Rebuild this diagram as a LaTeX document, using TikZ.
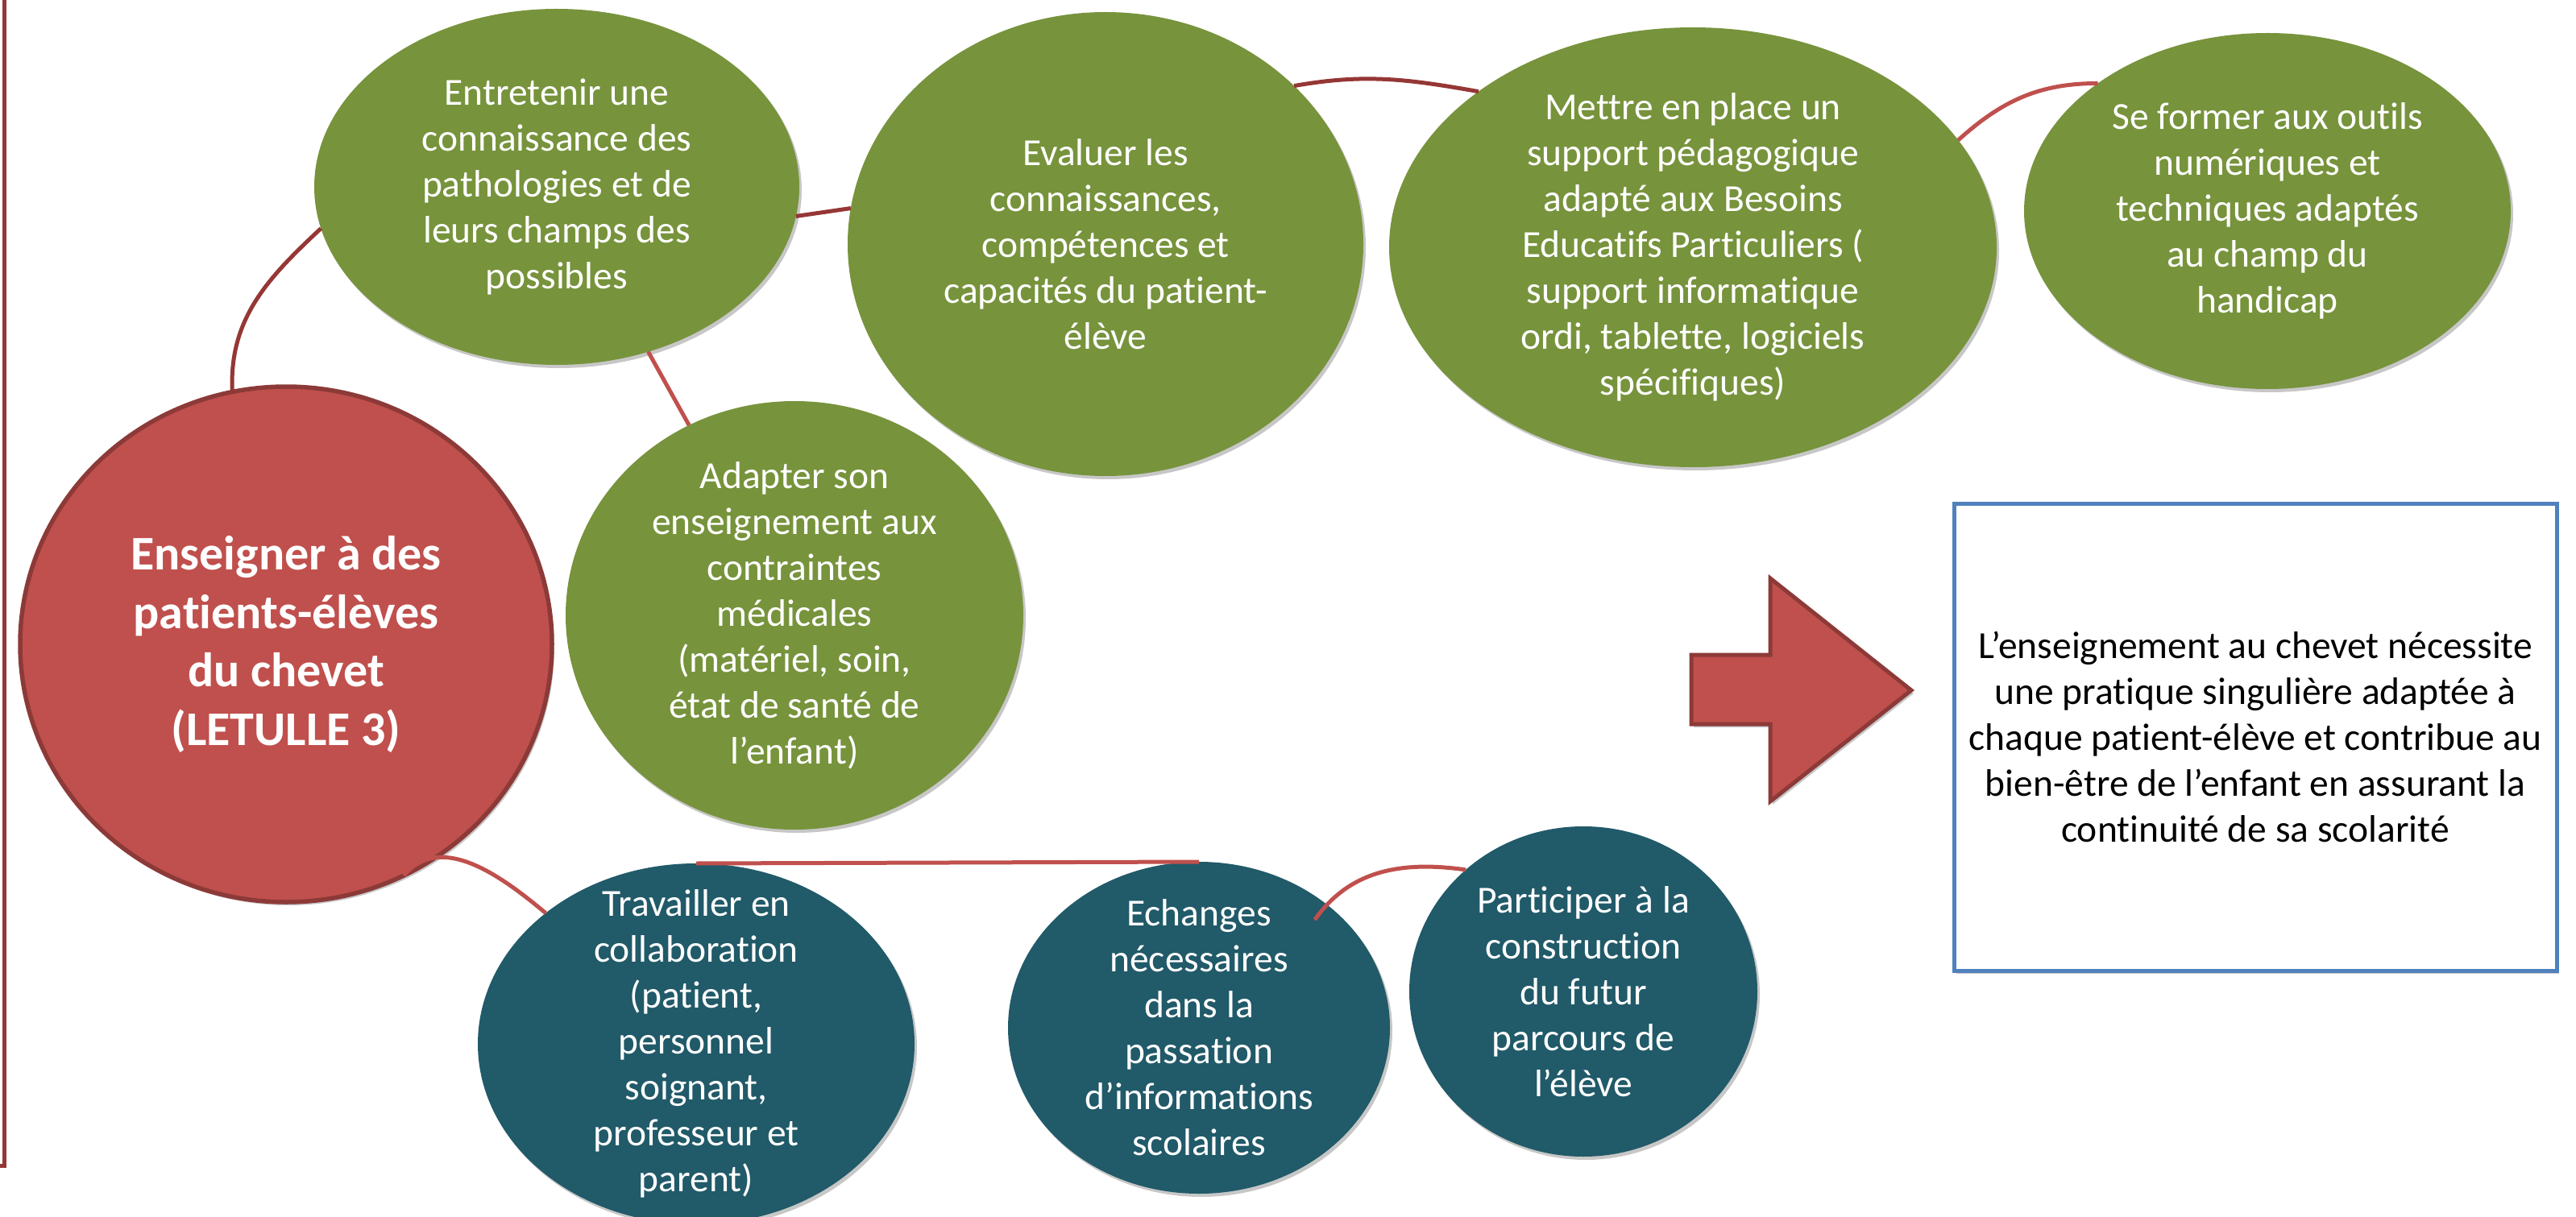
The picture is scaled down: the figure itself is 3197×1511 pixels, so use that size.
\documentclass[tikz,border=0pt]{standalone}
\usepackage{fontspec}
\setmainfont{Carlito}[Ligatures={NoCommon}]
\usetikzlibrary{shadows,calc,shapes.geometric}
\definecolor{grn}{HTML}{77933C}
\definecolor{tealc}{HTML}{215A69}
\definecolor{redf}{HTML}{C0504D}
\definecolor{redb}{HTML}{8C3A38}
\definecolor{lnk}{HTML}{953735}
\definecolor{lnkl}{HTML}{C0504D}
\definecolor{boxb}{HTML}{4F81BD}
\begin{document}
\begin{tikzpicture}[x=1pt,y=1pt,
  shad/.style={drop shadow={shadow xshift=3pt,shadow yshift=-4pt,opacity=0.22,fill=black}},
  bubble/.style={ellipse,inner sep=0pt,outer sep=0pt,shad},
  greenbubble/.style={bubble,fill=grn},
  tealbubble/.style={bubble,fill=tealc},
  txt/.style={align=center,text=white,inner sep=0pt,font=\fontsize{47.5}{57}\selectfont},
  darklink/.style={draw=lnk,line width=5pt},
  lightlink/.style={draw=lnkl,line width=5pt},
]
\path[use as bounding box,fill=white] (0,0) rectangle (3197,-1511);
\clip (0,0) rectangle (3197,-1511);

% left frame edge
\draw[lnk,line width=5pt] (5,2) -- (5,-1447) -- (-5,-1447);

% bubbles
\node[bubble,fill=redf,draw=redb,line width=5.5pt,minimum width=660pt,minimum height=640pt] (red) at (355,-800) {};
\node[greenbubble,minimum width=602pt,minimum height=442pt] (ent) at (691,-232) {};
\node[greenbubble,minimum width=640pt,minimum height=576pt] (eva) at (1372,-303) {};
\node[greenbubble,minimum width=754pt,minimum height=546pt] (met) at (2101,-307) {};
\node[greenbubble,minimum width=604pt,minimum height=442pt] (sef) at (2814,-262) {};
\node[greenbubble,minimum width=568pt,minimum height=532pt] (ada) at (986,-764) {};
\node[tealbubble,minimum width=542pt,minimum height=448pt] (tra) at (864,-1296) {};
\node[tealbubble,minimum width=474pt,minimum height=412pt] (ech) at (1488,-1276) {};
\node[tealbubble,minimum width=432pt,minimum height=410pt] (par) at (1965,-1231) {};

% connectors
\draw[darklink] (red.102) to[out=93,in=223] (ent.190);
\draw[lightlink] (ent.-61) -- (ada.119);
\draw[darklink] (ent.-7) -- (eva.172);
\draw[darklink] (eva.40) to[out=10,in=170] (met.144);
\draw[lightlink] (met.22) to[out=42,in=180] (sef.143);
\draw[lightlink] (red.-63) to[out=50,in=140] (tra.139);
\draw[lightlink] (tra.north) -- (ech.north);
\draw[lightlink] ($(ech.center)!0.89!(ech.43)$) to[out=55,in=172] (par.134);

% texts
\node[txt,font=\fontsize{60}{72.5}\selectfont\bfseries] (red-t) at (red.center) {Enseigner à des\\patients-élèves\\du chevet\\(LETULLE 3)};
\node[txt] (ent-t) at (ent.center) {Entretenir une\\connaissance des\\pathologies et de\\leurs champs des\\possibles};
\node[txt] (eva-t) at (eva.center) {Evaluer les\\connaissances,\\compétences et\\capacités du patient-\\élève};
\node[txt] (met-t) at (met.center) {Mettre en place un\\support pédagogique\\adapté aux Besoins\\Educatifs Particuliers (\\support informatique\\ordi, tablette, logiciels\\spécifiques)};
\node[txt] (sef-t) at (sef.center) {Se former aux outils\\numériques et\\techniques adaptés\\au champ du\\handicap};
\node[txt] (ada-t) at (ada.center) {Adapter son\\enseignement aux\\contraintes\\médicales\\(matériel, soin,\\état de santé de\\l’enfant)};
\node[txt] (tra-t) at (tra.center) {Travailler en\\collaboration\\(patient,\\personnel\\soignant,\\professeur et\\parent)};
\node[txt] (ech-t) at (ech.center) {Echanges\\nécessaires\\dans la\\passation\\d’informations\\scolaires};
\node[txt] (par-t) at (par.center) {Participer à la\\construction\\du futur\\parcours de\\l’élève};

% big arrow
\path[fill=redf,draw=redb,line width=5pt,line join=miter,shad]
  (2099,-813) -- (2197,-813) -- (2197,-718) -- (2372,-857) -- (2197,-995) -- (2197,-899) -- (2099,-899) -- cycle;

% conclusion box
\node[draw=boxb,line width=5pt,fill=white,shad,minimum width=748pt,minimum height=580pt,inner sep=0pt,
  align=center,font=\fontsize{47.5}{57}\selectfont] (box) at (2799,-915)
  {L’enseignement au chevet nécessite\\une pratique singulière adaptée à\\chaque patient-élève et contribue au\\bien-être de l’enfant en assurant la\\continuité de sa scolarité};
\end{tikzpicture}
\end{document}
